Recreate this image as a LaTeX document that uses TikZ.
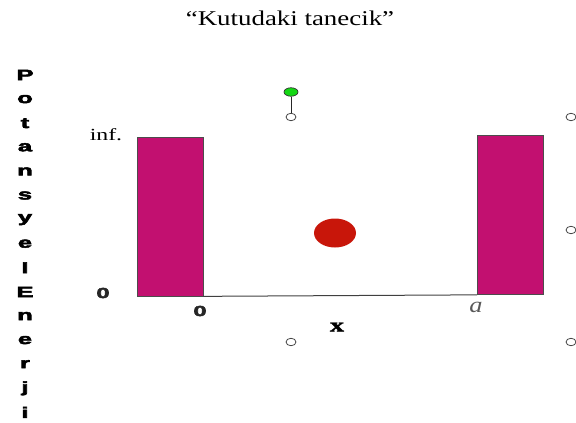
\documentclass[tikz,border=0pt]{standalone}
\usepackage{fontspec}
\usepackage{graphicx}
\setmainfont{Liberation Serif}
\setsansfont{Liberation Sans}
\newfontfamily\heavysans[BoldFeatures={FakeBold=3}]{Liberation Sans}
\newfontfamily\heavyserif[BoldFeatures={FakeBold=1.5}]{Liberation Serif}
\usetikzlibrary{positioning,shapes.geometric}

\definecolor{wallpink}{RGB}{194,16,112}
\definecolor{dotred}{RGB}{200,22,10}
\definecolor{handlegreen}{RGB}{20,215,20}
\newcommand{\wide}[2][1.4]{\scalebox{#1}[1]{#2}}

\begin{document}
\begin{tikzpicture} [
    x=1pt, y=-1pt,
    letter/.style={font=\heavysans\bfseries\fontsize{15}{15}\selectfont, inner sep=0pt},
    tick/.style={font=\heavysans\bfseries\fontsize{14.5}{14.5}\selectfont, inner sep=0pt, text=black!85},
    wall/.style={rectangle, draw=black!70, fill=wallpink, line width=0.7pt, minimum width=66pt, minimum height=159pt, inner sep=0pt},
    handle/.style={ellipse, draw=black!80, fill=white, line width=0.7pt, minimum width=10pt, minimum height=7.5pt, inner sep=0pt}
]
\useasboundingbox (0,0) rectangle (576,423);

% Title
\node (title) at (290,18) {\fontsize{21}{21}\selectfont\wide[1.28]{``Kutudaki tanecik''}};

% Vertical axis label
\foreach \ch [count=\i from 0] in {P,o,t,a,n,s,y,e,l,E,n,e,r,j,i}
    \node[letter] (lab\i) at (25,75+24.1*\i) {\wide[1.7]{\ch}};

% Walls of the box
\node[wall] (leftwall) at (170,216.5) {};
\node[wall] (rightwall) at (510.5,215) {};
\draw[black!75, line width=1pt] (leftwall.south east) -- (rightwall.south west);

% Labels
\node (inf) at (106,135) {\fontsize{17}{17}\selectfont\wide[1.4]{inf.}};
\node[tick] (zeroy) at (103,293) {\wide[1.6]{0}};
\node[tick] (zerox) at (200,311) {\wide[1.6]{0}};
\node[text=black!65] (aval) at (476,307) {\fontsize{22}{22}\selectfont\wide[1.2]{\itshape a}};
\node (xlab) at (337,327) {\heavyserif\bfseries\fontsize{19}{19}\selectfont\wide[1.5]{x}};

% Particle
\node[ellipse, fill=dotred, minimum width=42pt, minimum height=29pt, inner sep=0pt] (particle) at (335,233) {};

% Selection handles
\node[handle, fill=handlegreen, minimum width=14pt, minimum height=8.5pt] (rot) at (291,92) {};
\node[handle] (htop) at (291,117) {};
\node[handle] (hbot) at (291,342) {};
\node[handle] (rtop) at (571,117) {};
\node[handle] (rmid) at (571,230) {};
\node[handle] (rbot) at (571,342) {};
\draw[black!85, line width=1pt] (rot) -- (htop);

\end{tikzpicture}
\end{document}
